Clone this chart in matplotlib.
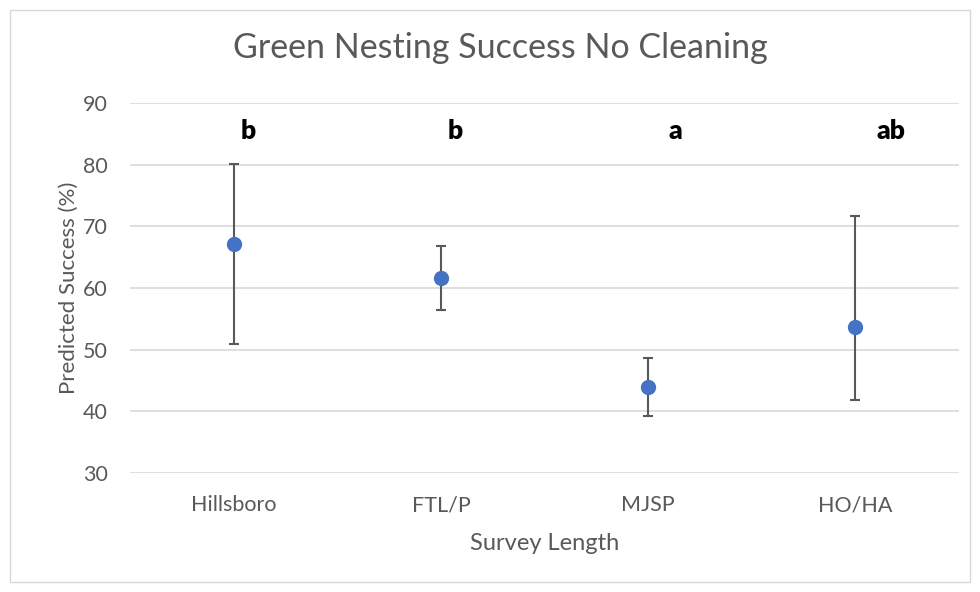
import numpy as np
import matplotlib
matplotlib.use("Agg")
import matplotlib.pyplot as plt
from matplotlib.patches import Rectangle

plt.rcParams['font.family'] = ['Lato', 'DejaVu Sans']

sites = ["Hillsboro", "FTL/P", "MJSP", "HO/HA"]
success = [67.2, 61.7, 43.9, 53.7]
upper = [80.1, 66.8, 48.7, 71.6]
lower = [50.9, 56.4, 39.2, 41.9]
letters = ["b", "b", "a", "ab"]
letter_shift = [0.07, 0.07, 0.13, 0.17]
letter_y = 85.4

fig = plt.figure(figsize=(9.8, 5.92), dpi=100)
ax = fig.add_axes([130/980, 1 - 473/592, 829/980, 370/592])

x = np.arange(len(sites))
yerr = [np.array(success) - np.array(lower), np.array(upper) - np.array(success)]
ax.errorbar(x, success, yerr=yerr, fmt="o", color="#4472C4", markersize=10,
            ecolor="#595959", elinewidth=1.5, capsize=3.6, capthick=1.5, zorder=3)

for i, lab in enumerate(letters):
    ax.text(i + letter_shift[i], letter_y, lab, ha="center", va="center",
            fontsize=19, fontweight="heavy", color="black")

ax.set_xlim(-0.5, len(sites) - 0.5)
ax.set_ylim(30, 90)
ax.set_yticks(np.arange(30, 91, 10))
ax.set_xticks(x)
ax.set_xticklabels(sites)
ax.grid(axis="y", color="#D9D9D9", linewidth=1.2)
ax.set_axisbelow(True)
for s in ax.spines.values():
    s.set_visible(False)
ax.tick_params(length=0, labelsize=15.5, labelcolor="#595959")
ax.tick_params(axis="y", pad=16)
ax.tick_params(axis="x", pad=16)

ax.set_xlabel("Survey Length", fontsize=17, color="#595959", labelpad=13)
ax.set_ylabel("Predicted Success (%)", fontsize=16, color="#595959", labelpad=3)

fig.text(500/980, 1 - 48/592, "Green Nesting Success No Cleaning", ha="center",
         va="center", fontsize=24.5, color="#595959")

fig.patches.append(Rectangle((10/980, 10/592), 960/980, 572/592, transform=fig.transFigure,
                             fill=False, edgecolor="#D9D9D9", linewidth=1))

fig.savefig("out.png", dpi=100, facecolor="white")
